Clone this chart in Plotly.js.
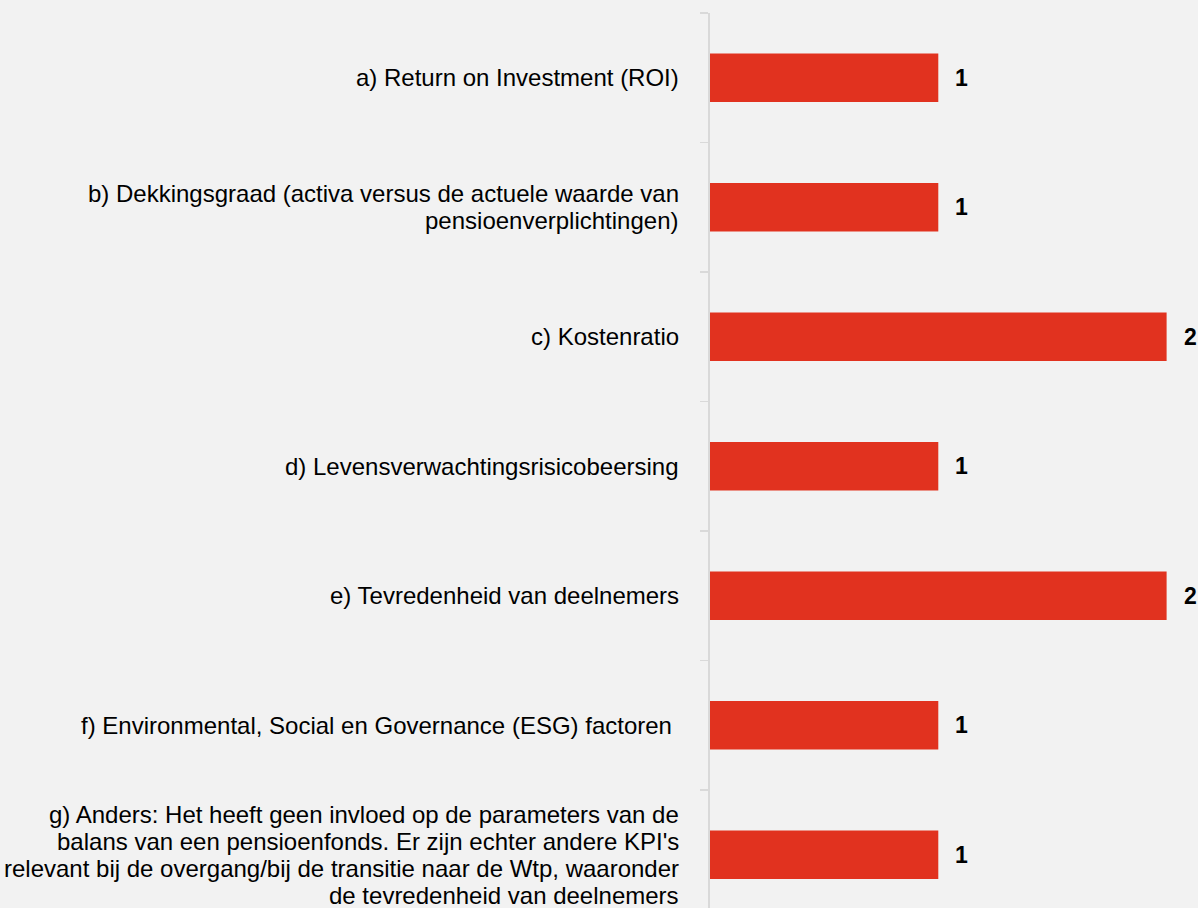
<!DOCTYPE html>
<html>
<head>
<meta charset="utf-8">
<script src="https://cdn.plot.ly/plotly-3.0.1.min.js"></script>
<style>
  html, body { margin: 0; padding: 0; background: #f2f2f2; }
  #chart { width: 1198px; height: 908px; }
</style>
</head>
<body>
<div id="chart"></div>
<script>
// ---- data ----
const categories = [
  "a) Return on Investment (ROI)",
  "b) Dekkingsgraad (activa versus de actuele waarde van\npensioenverplichtingen)",
  "c) Kostenratio",
  "d) Levensverwachtingsrisicobeersing",
  "e) Tevredenheid van deelnemers",
  "f) Environmental, Social en Governance (ESG) factoren ",
  "g) Anders: Het heeft geen invloed op de parameters van de\nbalans van een pensioenfonds. Er zijn echter andere KPI's\nrelevant bij de overgang/bij de transitie naar de Wtp, waaronder\nde tevredenheid van deelnemers"
];
const values = [1, 1, 2, 1, 2, 1, 1];

// ---- styles ----
const FONT = "Liberation Sans, Arial, sans-serif";
const BAR_COLOR = "#e1321f";
const AXIS_COLOR = "#d9d9d9";
const LINE_SPACING = 27;

const trace = {
  type: "bar",
  orientation: "h",
  x: values,
  y: categories,
  marker: { color: BAR_COLOR },
  hoverinfo: "none"
};

const annotations = [];
categories.forEach((cat, i) => {
  const lines = cat.split("\n");
  const n = lines.length;
  lines.forEach((ln, j) => {
    annotations.push({
      xref: "paper", yref: "y",
      x: 0, y: cat,
      xanchor: "right", yanchor: "middle",
      xshift: -29,
      yshift: ((n - 1) / 2 - j) * LINE_SPACING,
      text: ln,
      showarrow: false,
      align: "right",
      font: { family: FONT, size: 24, color: "#000000" }
    });
  });
  annotations.push({
    xref: "x", yref: "y",
    x: values[i], y: cat,
    xanchor: "left", yanchor: "middle",
    xshift: 15,
    text: "<b>" + values[i] + "</b>",
    showarrow: false,
    font: { family: FONT, size: 23, color: "#000000" }
  });
});

const layout = {
  width: 1198,
  height: 908,
  paper_bgcolor: "#f2f2f2",
  plot_bgcolor: "#f2f2f2",
  margin: { l: 710, r: 0, t: 13, b: 0, pad: 0 },
  showlegend: false,
  bargap: 0.627,
  xaxis: {
    range: [0, 2.1375],
    showgrid: false,
    zeroline: false,
    showline: false,
    showticklabels: false,
    ticks: ""
  },
  yaxis: {
    type: "category",
    range: [6.411, -0.5],
    showgrid: false,
    zeroline: false,
    showline: true,
    linecolor: AXIS_COLOR,
    linewidth: 2,
    ticks: "outside",
    tickson: "boundaries",
    ticklen: 8,
    tickwidth: 1.5,
    tickcolor: AXIS_COLOR,
    showticklabels: false
  },
  annotations: annotations,
  hovermode: false
};

Plotly.newPlot("chart", [trace], layout, { displayModeBar: false, staticPlot: true });
</script>
</body>
</html>
